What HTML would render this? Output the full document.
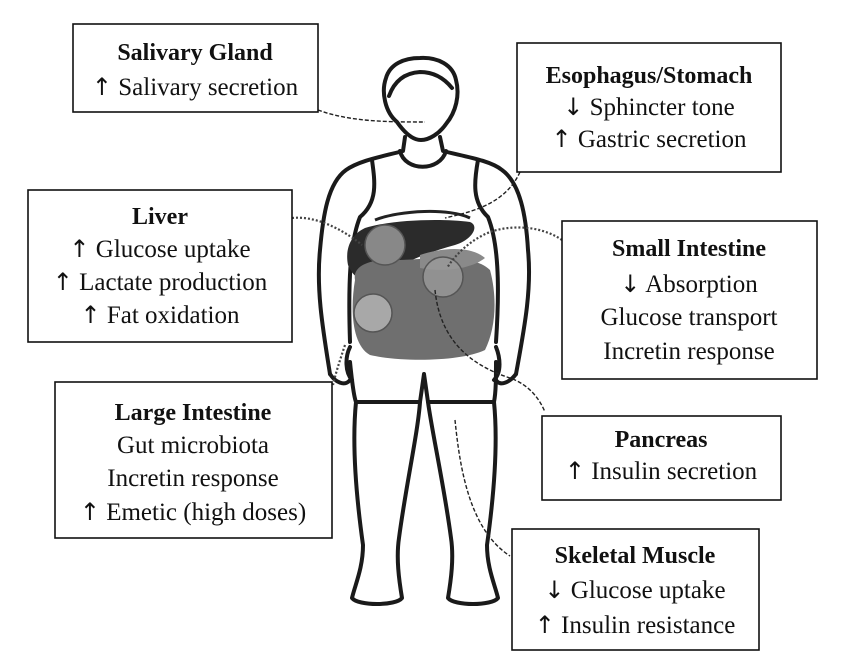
<!DOCTYPE html>
<html><head><meta charset="utf-8"><style>
html,body{margin:0;padding:0;background:#fff;}
svg{display:block;}
text{font-family:"Liberation Serif",serif;font-size:25px;fill:#111;text-anchor:middle;}
.b{font-weight:bold;font-size:24px;}
.a{font-family:"DejaVu Sans",sans-serif;font-size:24px;}
</style></head><body>
<svg width="841" height="672" viewBox="0 0 841 672" xmlns="http://www.w3.org/2000/svg">
<g fill="none" stroke="#1a1a1a" stroke-width="4" stroke-linejoin="round" stroke-linecap="round">
<!-- head -->
<path d="M397,122 C385,112 381,92 386,78 C390,64 404,58 420,58 C438,57 453,65 456,80 C460,95 456,112 446,124 C439,134 429,140 421,140 C412,140 404,132 397,122 Z"/>
<path d="M389,96 C394,82 404,73 420,72 C433,72 444,78 452,88"/>
<!-- neck/shoulders/torso -->
<path d="M405,137 L403,151 C385,156 360,160 346,170 C328,183 323,215 320,250 C316,290 323,330 330,374"/>
<path d="M440,137 L443,151 C462,156 490,160 502,170 C520,183 526,215 528,250 C532,290 524,330 516,374"/>
<!-- tank top -->
<path d="M372,160 C375,182 378,202 360,217 C350,242 348,282 350,342"/>
<path d="M478,160 C474,182 472,202 488,217 C498,242 500,282 496,342"/>
<path d="M400,151 C405,172 440,172 446,151"/>
<!-- hands -->
<path d="M330,374 C335,382 345,387 350,380 M350,347 C345,357 345,372 352,380"/>
<path d="M516,374 C510,382 500,387 496,380 M496,347 C500,357 502,372 494,380"/>
<!-- hips / shorts -->
<path d="M350,362 C352,382 354,397 356,402 L420,402 L424,374 L428,402 L494,402 C496,392 496,377 496,362"/>
<!-- legs -->
<path d="M356,402 C352,442 356,495 363,545 C363,568 355,585 352,598 C358,606 396,606 402,598 C399,580 396,558 399,538 C406,485 418,432 420,402"/>
<path d="M494,402 C498,442 494,495 487,545 C487,568 495,585 498,598 C492,606 454,606 448,598 C451,580 454,558 451,538 C444,485 432,432 428,402"/>
</g>
<!-- organs -->
<path d="M348,265 C345,250 350,235 365,228 C390,220 440,218 470,222 C480,226 472,240 455,245 C430,252 400,262 380,280 C370,285 355,282 348,265Z" fill="#2b2b2b"/>
<path d="M375,220 C400,210 450,208 470,218" fill="none" stroke="#222" stroke-width="3"/>
<path d="M355,280 C352,265 372,258 400,260 C440,258 475,255 490,270 C498,300 495,330 485,350 C460,362 400,362 370,355 C352,345 350,310 355,280Z" fill="#6f6f6f"/>
<path d="M420,255 C440,248 470,245 485,258 C470,270 440,272 420,268Z" fill="#8a8a8a"/>
<circle cx="385" cy="245" r="20" fill="#888" stroke="#555" stroke-width="1.5"/>
<circle cx="443" cy="277" r="20" fill="#9a9a9a" fill-opacity=".8" stroke="#555" stroke-width="1.5"/>
<circle cx="373" cy="313" r="19" fill="#a8a8a8" stroke="#555" stroke-width="1.5"/>
<!-- connectors -->
<g fill="none" stroke="#222" stroke-width="1.4">
<path d="M318,110 C350,122 390,122 425,122" stroke-dasharray="4,2"/>
<path d="M520,172 C505,205 470,212 445,218" stroke-dasharray="4,2"/>
<path d="M435,290 C440,340 470,365 510,378 C530,385 540,400 545,412" stroke-dasharray="4,2"/>
<path d="M455,420 C460,470 470,530 510,556" stroke-dasharray="4,2"/>
</g>
<g fill="none" stroke="#444" stroke-width="2.2" stroke-dasharray="2,2">
<path d="M292,218 C320,215 350,235 362,245"/>
<path d="M562,240 C540,225 510,225 490,232 C470,240 455,255 447,268"/>
<path d="M345,345 C340,360 336,372 333,385"/>
</g>
<!-- boxes -->
<g fill="#fff" stroke="#111" stroke-width="1.6">
<rect x="73" y="24" width="245" height="88"/>
<rect x="517" y="43" width="264" height="129"/>
<rect x="28" y="190" width="264" height="152"/>
<rect x="562" y="221" width="255" height="158"/>
<rect x="55" y="382" width="277" height="156"/>
<rect x="542" y="416" width="239" height="84"/>
<rect x="512" y="529" width="247" height="121"/>
</g>
<text x="195" y="60" class="b">Salivary Gland</text>
<text x="195" y="95"><tspan class="a">↑</tspan> Salivary secretion</text>
<text x="649" y="83" class="b">Esophagus/Stomach</text>
<text x="649" y="115"><tspan class="a">↓</tspan> Sphincter tone</text>
<text x="649" y="147"><tspan class="a">↑</tspan> Gastric secretion</text>
<text x="160" y="224" class="b">Liver</text>
<text x="160" y="257"><tspan class="a">↑</tspan> Glucose uptake</text>
<text x="160" y="290"><tspan class="a">↑</tspan> Lactate production</text>
<text x="160" y="323"><tspan class="a">↑</tspan> Fat oxidation</text>
<text x="689" y="256" class="b">Small Intestine</text>
<text x="689" y="292"><tspan class="a">↓</tspan> Absorption</text>
<text x="689" y="325">Glucose transport</text>
<text x="689" y="359">Incretin response</text>
<text x="193" y="420" class="b">Large Intestine</text>
<text x="193" y="453">Gut microbiota</text>
<text x="193" y="486">Incretin response</text>
<text x="193" y="520"><tspan class="a">↑</tspan> Emetic (high doses)</text>
<text x="661" y="447" class="b">Pancreas</text>
<text x="661" y="479"><tspan class="a">↑</tspan> Insulin secretion</text>
<text x="635" y="563" class="b">Skeletal Muscle</text>
<text x="635" y="598"><tspan class="a">↓</tspan> Glucose uptake</text>
<text x="635" y="633"><tspan class="a">↑</tspan> Insulin resistance</text>
</svg>
</body></html>
